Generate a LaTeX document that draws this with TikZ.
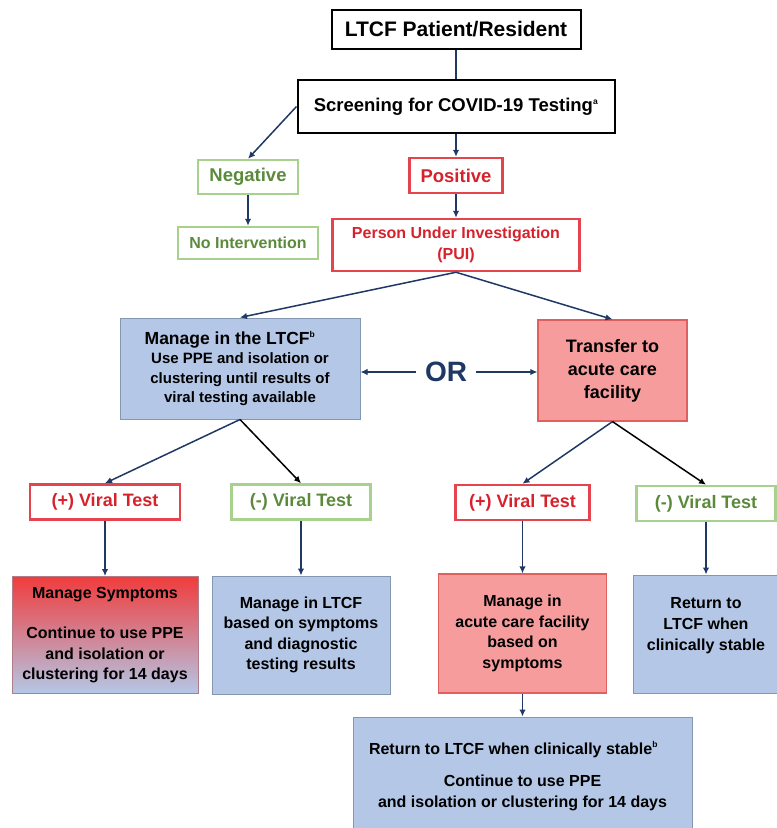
\documentclass[tikz,border=0pt]{standalone}
\usepackage{fontspec}
\setmainfont{Liberation Sans}
\usepackage{xcolor}
\usetikzlibrary{calc,arrows.meta}

\definecolor{navy}{HTML}{1F3864}
\definecolor{grnline}{HTML}{A9D18E}
\definecolor{grntext}{HTML}{5B8A3C}
\definecolor{redline}{HTML}{E5434D}
\definecolor{redtext}{HTML}{D6222C}
\definecolor{bluefill}{HTML}{B4C7E7}
\definecolor{blueline}{HTML}{8497B0}
\definecolor{pinkfill}{HTML}{F69C9C}
\definecolor{pinkline}{HTML}{E06060}
\definecolor{hotred}{HTML}{F03C3C}

\newcommand{\fsz}[2]{\fontsize{#1}{#2}\selectfont}
\newcommand{\supmark}[1]{\textsuperscript{\fsz{8.5}{9}#1}}

\begin{document}
\begin{tikzpicture}[x=1pt, y=-1pt, >={Latex[length=7pt,width=6.5pt]},
    base/.style={align=center, inner sep=0pt},
    plainbox/.style={base, draw=black, line width=2pt},
    greenbox/.style={base, draw=grnline, line width=2.5pt, text=grntext},
    redbox/.style={base, draw=redline, line width=2.5pt, text=redtext},
    bluebox/.style={base, fill=bluefill, draw=blueline, line width=1pt},
    pinkbox/.style={base, fill=pinkfill, draw=pinkline, line width=1.2pt},
    link/.style={->, navy, line width=1.5pt},
    blklink/.style={->, black, line width=1.5pt}]
    \clip (0,0) rectangle (777,828);

    % top of the chart
    \node[plainbox, minimum width=249pt, minimum height=39pt, font=\bfseries\fsz{21}{25}] (top) at (456,29.5) {LTCF Patient/Resident};
    \node[plainbox, minimum width=317pt, minimum height=53pt, font=\bfseries\fsz{18.5}{22}] (screen) at (456,106.5) {Screening for COVID-19 Testing\supmark{a}};
    \node[greenbox, minimum width=100pt, minimum height=34pt, font=\bfseries\fsz{18.5}{22}] (neg) at (248,177) {Negative};
    \node[redbox, minimum width=93pt, minimum height=35pt, font=\bfseries\fsz{18.5}{22}] (pos) at (456,175.5) {Positive};
    \node[greenbox, minimum width=140pt, minimum height=32pt, font=\bfseries\fsz{16}{20}] (noint) at (248,243) {No Intervention};
    \node[redbox, minimum width=247pt, minimum height=52pt, font=\bfseries\fsz{16}{21}] (pui) at (456,245) {Person Under Investigation\\(PUI)};

    % two ways
    \node[bluebox, minimum width=240pt, minimum height=101pt, font=\bfseries\fsz{15}{19.5}] (ltcf) at (240,368.5)
        {{\fsz{17.5}{21}Manage in the LTCF\supmark{b}\hspace*{20pt}\mbox{}}\\Use PPE and isolation or\\clustering until results of\\viral testing available};
    \node[pinkbox, minimum width=149pt, minimum height=101pt, font=\bfseries\fsz{18}{23}] (transfer) at (612.5,370.5) {Transfer to\\acute care\\facility};
    \node[base, inner sep=9pt, text=navy, font=\bfseries\fsz{28}{32}] (or) at (446,372) {OR};

    % viral tests
    \node[redbox, minimum width=150pt, minimum height=35pt, font=\bfseries\fsz{18}{22}] (posA) at (105,502) {(+) Viral Test};
    \node[greenbox, minimum width=139pt, minimum height=35pt, font=\bfseries\fsz{18}{22}] (negA) at (301,502) {(-) Viral Test};
    \node[redbox, minimum width=134pt, minimum height=35pt, font=\bfseries\fsz{18}{22}] (posB) at (522.5,502.5) {(+) Viral Test};
    \node[greenbox, minimum width=139pt, minimum height=35pt, font=\bfseries\fsz{18}{22}] (negB) at (706,503.5) {(-) Viral Test};

    % outcomes
    \node[base, top color=hotred, middle color=hotred!45!bluefill, bottom color=bluefill, draw=pinkline!50!blueline, line width=1pt,
        minimum width=186pt, minimum height=117pt, font=\bfseries\fsz{16}{20.5}] (sympt) at (105,635)
        {Manage Symptoms\\[20pt]Continue to use PPE\\and isolation or\\clustering for 14 days};
    \node[bluebox, minimum width=178pt, minimum height=118pt, font=\bfseries\fsz{16}{20.5}] (manltcf) at (301,635)
        {Manage in LTCF\\based on symptoms\\and diagnostic\\testing results};
    \node[pinkbox, minimum width=168pt, minimum height=119pt, font=\bfseries\fsz{16}{20.5}] (acute) at (522.5,633.5)
        {Manage in\\acute care facility\\based on\\symptoms};
    \node[bluebox, minimum width=146pt, minimum height=118pt, font=\bfseries\fsz{16}{21}] (ret) at (706,634)
        {Return to\\LTCF when\\clinically stable\\\mbox{}};
    \node[bluebox, minimum width=339pt, minimum height=118pt, font=\bfseries\fsz{16}{20.5}] (final) at (522.5,776)
        {Return to LTCF when clinically stable\supmark{b}\hspace*{18pt}\mbox{}\\[12pt]Continue to use PPE\\and isolation or clustering for 14 days};

    % connectors
    \draw[navy, line width=1.5pt] (top.south) -- (screen.north);
    \draw[link] (screen.west) -- (neg.north);
    \draw[link] (screen.south) -- (pos.north);
    \draw[link] (neg.south) -- (noint.north);
    \draw[link] (pos.south) -- (pui.north);
    \draw[link] (pui.south) -- (ltcf.north);
    \draw[link] (pui.south) -- (transfer.north);
    \draw[link] (or.west) -- (or.west -| ltcf.east);
    \draw[link] (or.east) -- (or.east -| transfer.west);
    \draw[link] (ltcf.south) -- (posA.north);
    \draw[blklink] (ltcf.south) -- (negA.north);
    \draw[link] (transfer.south) -- (posB.north);
    \draw[blklink] (transfer.south) -- (negB.north);
    \draw[link] (posA.south) -- (sympt.north);
    \draw[link] (negA.south) -- (manltcf.north);
    \draw[link] (posB.south) -- (acute.north);
    \draw[link] (negB.south) -- (ret.north);
    \draw[link] (acute.south) -- (final.north);
\end{tikzpicture}
\end{document}
